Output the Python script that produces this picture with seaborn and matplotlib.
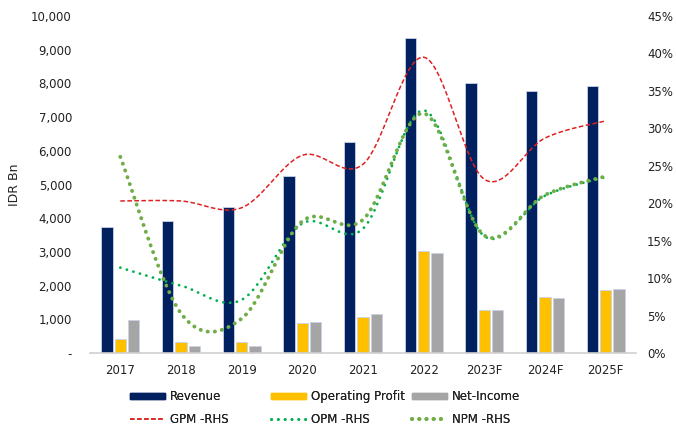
import numpy as np
import pandas as pd
import matplotlib
matplotlib.use("Agg")
import matplotlib.pyplot as plt
import seaborn as sns
from matplotlib.lines import Line2D
from matplotlib.patches import Patch
from matplotlib.ticker import FuncFormatter

years = ["2017", "2018", "2019", "2020", "2021", "2022", "2023F", "2024F", "2025F"]
revenue = [3750, 3920, 4320, 5250, 6270, 9340, 8010, 7770, 7930]
operating_profit = [430, 335, 317, 890, 1080, 3030, 1286, 1652, 1869]
net_income = [980, 217, 199, 910, 1166, 2976, 1266, 1632, 1889]
gpm = [20.3, 20.3, 19.4, 26.4, 25.2, 39.5, 23.2, 28.7, 31.0]
opm = [11.4, 9.0, 7.1, 17.3, 16.6, 32.4, 15.6, 21.0, 23.5]
npm = [26.2, 5.3, 4.6, 17.6, 17.8, 32.0, 15.7, 21.1, 23.6]

sns.set_theme(style="white")
plt.rcParams["font.family"] = ["DejaVu Sans"]

NAVY, GOLD, GREY = "#002060", "#FFC000", "#A5A5A5"
RED, GREEN, OLIVE = "#E02020", "#00B050", "#70AD47"
TXT = "#222222"

df = pd.DataFrame({
    "year": years * 3,
    "value": revenue + operating_profit + net_income,
    "series": ["Revenue"] * 9 + ["Operating Profit"] * 9 + ["Net-Income"] * 9,
})

fig = plt.figure(figsize=(6.76, 4.28), dpi=100)
ax = fig.add_axes([0.1331, 0.1752, 0.8077, 0.7874])

sns.barplot(data=df, x="year", y="value", hue="series",
            palette=[NAVY, GOLD, GREY], saturation=1, width=0.66, gap=0.16,
            edgecolor="#C9D3E6", linewidth=0.6, legend=False, ax=ax)

ax.set_ylim(0, 10000)
ax.set_xlim(-0.5, 8.5)
ax.set_yticks(np.arange(0, 10001, 1000))
ax.yaxis.set_major_formatter(FuncFormatter(lambda v, p: "-" if v == 0 else f"{int(v):,}"))
ax.set_xlabel("")
ax.set_ylabel("IDR Bn", fontsize=9, color=TXT, labelpad=7)
ax.tick_params(axis="both", length=0, labelsize=8.5, colors=TXT)
ax.tick_params(axis="y", pad=13)
ax.tick_params(axis="x", pad=8)
for s in ["top", "right", "left"]:
    ax.spines[s].set_visible(False)
ax.spines["bottom"].set_color("#D0D0D0")
ax.spines["bottom"].set_linewidth(1.2)


def smooth(y, n=30):
    """Bezier smoothing through the points, Excel-style."""
    y = np.asarray(y, dtype=float)
    x = np.arange(len(y), dtype=float)
    pts = np.column_stack([x, y])
    out = []
    t = np.linspace(0, 1, n)[:, None]
    for i in range(len(pts) - 1):
        p0 = pts[i - 1] if i > 0 else pts[i]
        p1, p2 = pts[i], pts[i + 1]
        p3 = pts[i + 2] if i + 2 < len(pts) else pts[i + 1]
        c1 = p1 + (p2 - p0) / 6
        c2 = p2 - (p3 - p1) / 6
        seg = ((1 - t) ** 3) * p1 + 3 * ((1 - t) ** 2) * t * c1 + 3 * (1 - t) * t ** 2 * c2 + t ** 3 * p2
        out.append(seg if i == 0 else seg[1:])
    arr = np.vstack(out)
    return arr[:, 0], arr[:, 1]


ax2 = ax.twinx()
ax2.set_ylim(0, 45)
ax2.set_yticks(np.arange(0, 46, 5))
ax2.yaxis.set_major_formatter(FuncFormatter(lambda v, p: f"{int(v)}%"))
ax2.tick_params(axis="y", length=0, labelsize=8.5, colors=TXT, pad=8)
for s in ["top", "right", "left", "bottom"]:
    ax2.spines[s].set_visible(False)
ax2.grid(False)

gpm_style = dict(color=RED, lw=1.1, linestyle=(0, (3, 1.6)))
opm_style = dict(color=GREEN, lw=2.0, linestyle=(0, (0.05, 2.4)), dash_capstyle="round")
npm_style = dict(color=OLIVE, lw=2.8, linestyle=(0, (0.05, 1.8)), dash_capstyle="round")

ax2.plot(*smooth(gpm), **gpm_style)
ax2.plot(*smooth(opm), **opm_style)
ax2.plot(*smooth(npm), **npm_style)

# Legend: three columns, bars on the first row, margins on the second
columns = [
    ([Patch(facecolor=NAVY, edgecolor=NAVY), Line2D([], [], **gpm_style)], ["Revenue", "GPM -RHS"]),
    ([Patch(facecolor=GOLD, edgecolor=GOLD), Line2D([], [], **opm_style)], ["Operating Profit", "OPM -RHS"]),
    ([Patch(facecolor=GREY, edgecolor=GREY), Line2D([], [], **npm_style)], ["Net-Income", "NPM -RHS"]),
]
for i, (h, l) in enumerate(columns):
    x0 = (130 + 141 * i) / 676
    leg = fig.legend(h, l, loc="upper left", bbox_to_anchor=(x0, 1 - 390 / 428),
                     frameon=False, fontsize=8.5, handlelength=3.0, handleheight=0.45,
                     handletextpad=0.35, labelspacing=0.85, borderpad=0,
                     borderaxespad=0, labelcolor=TXT)
    fig.add_artist(leg)

fig.savefig("out.png", dpi=100)
